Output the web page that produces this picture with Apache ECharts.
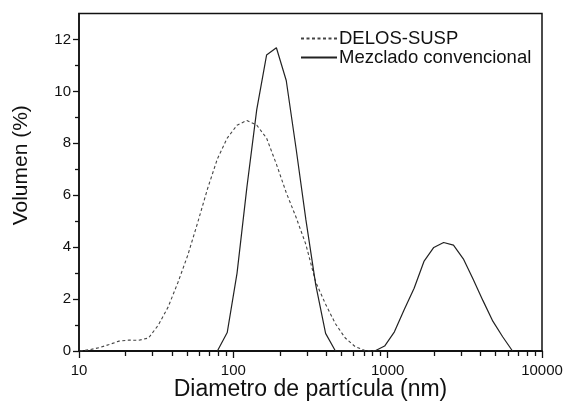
<!DOCTYPE html>
<html>
<head>
<meta charset="utf-8">
<script src="https://cdn.jsdelivr.net/npm/echarts@6/dist/echarts.min.js"></script>
<style>
html,body{margin:0;padding:0;background:#fff;}
#c{width:564px;height:403px;}
</style>
</head>
<body>
<div id="c"></div>
<script>
// Particle size bins (nm)
var sizes = [10.1, 11.7, 13.54, 15.69, 18.17, 21.04, 24.36, 28.21, 32.67, 37.84, 43.82, 50.75, 58.77, 68.06, 78.82, 91.28, 105.7, 122.4, 141.8, 164.2, 190.1, 220.2, 255.0, 295.3, 342.0, 396.1, 458.7, 531.2, 615.1, 712.4, 825.0, 955.4, 1106, 1281, 1484, 1718, 1990, 2305, 2669, 3091, 3580, 4145, 4801, 5560, 6439];
// Volume (%) - DELOS-SUSP
var delos = [0, 0.05, 0.13, 0.25, 0.38, 0.42, 0.41, 0.5, 1.0, 1.7, 2.65, 3.7, 4.95, 6.25, 7.4, 8.2, 8.7, 8.88, 8.7, 8.2, 7.2, 6.1, 5.15, 4.1, 2.65, 1.8, 1.05, 0.5, 0.17, 0.02, 0, null, null, null, null, null, null, null, null, null, null, null, null, null, null];
// Volume (%) - Mezclado convencional
var mezclado = [null, null, null, null, null, null, null, null, null, null, null, null, null, null, 0, 0.71, 3.0, 6.3, 9.3, 11.4, 11.68, 10.42, 7.8, 5.05, 2.55, 0.68, 0, 0, 0, 0, 0, 0.19, 0.74, 1.6, 2.42, 3.45, 3.99, 4.18, 4.08, 3.55, 2.76, 1.94, 1.15, 0.55, 0];

var seriesNames = ['DELOS-SUSP', 'Mezclado convencional'];
var xMinorTicks = [20, 30, 40, 50, 60, 70, 80, 90, 200, 300, 400, 500, 600, 700, 800, 900, 2000, 3000, 4000, 5000, 6000, 7000, 8000, 9000];
var yMajorTicks = [0, 2, 4, 6, 8, 10, 12];
var yMinorTicks = [1, 3, 5, 7, 9, 11];
var xTitle = 'Diametro de partícula (nm)';
var yTitle = 'Volumen (%)';

function pairs(vals) {
  return sizes.map(function (s, i) { return [s, vals[i]]; });
}

var FONT = 'Liberation Sans, Arial, sans-serif';
var chart = echarts.init(document.getElementById('c'), null, {renderer: 'canvas'});
chart.setOption({
  animation: false,
  backgroundColor: '#fff',
  textStyle: {fontFamily: FONT},
  grid: {left: 79, right: 22, top: 13.5, bottom: 52, containLabel: false, outerBoundsMode: 'none',
         show: true, borderColor: '#111', borderWidth: 1.5, backgroundColor: 'transparent'},
  legend: {
    orient: 'vertical', left: 300, top: 29, padding: 0,
    itemWidth: 36, itemHeight: 12, itemGap: 0,
    itemStyle: {opacity: 0},
    textStyle: {fontFamily: FONT, fontSize: 18.5, color: '#111', padding: [0, 0, 0, -3]},
    data: seriesNames
  },
  xAxis: [{
    type: 'log', logBase: 10, min: 10, max: 10000,
    name: xTitle, nameLocation: 'middle', nameGap: 27, nameMoveOverlap: false,
    nameTextStyle: {fontFamily: FONT, fontSize: 23, color: '#111'},
    axisLine: {lineStyle: {color: '#111', width: 1.5}},
    axisTick: {show: true, inside: false, length: 7, lineStyle: {color: '#111', width: 1.3}},
    axisLabel: {fontFamily: FONT, fontSize: 15, color: '#111', margin: 12,
                formatter: function (v) { return String(Math.round(v)); }},
    splitLine: {show: false}
  }, {
    // exponent-space companion axis (log10 of nm) carrying the minor ticks of the log axis
    type: 'value', min: 1, max: 4, position: 'bottom', offset: 0,
    axisLine: {show: true, onZero: false, lineStyle: {color: '#111', width: 1.5}},
    axisTick: {show: true, inside: false, length: 5,
               customValues: xMinorTicks.map(function (v) { return Math.log10(v); }),
               lineStyle: {color: '#111', width: 1.3}},
    axisLabel: {show: false},
    splitLine: {show: false}
  }],
  yAxis: [{
    type: 'value', min: 0, max: 13, interval: 2,
    name: yTitle, nameLocation: 'middle', nameGap: 47, nameRotate: 90,
    nameTextStyle: {fontFamily: FONT, fontSize: 21, color: '#111', padding: [0, 0, 0, 34]},
    axisLine: {show: true, lineStyle: {color: '#111', width: 1.5}},
    axisTick: {show: true, inside: false, length: 6, customValues: yMajorTicks, lineStyle: {color: '#111', width: 1.3}},
    axisLabel: {fontFamily: FONT, fontSize: 15, color: '#111', margin: 8, customValues: yMajorTicks},
    splitLine: {show: false}
  }, {
    type: 'value', min: 0, max: 13, position: 'left', offset: 0,
    axisLine: {show: false},
    axisTick: {show: true, inside: false, length: 4, customValues: yMinorTicks, lineStyle: {color: '#111', width: 1.3}},
    axisLabel: {show: false},
    splitLine: {show: false}
  }],
  series: [{
    name: seriesNames[0], type: 'line', xAxisIndex: 0, yAxisIndex: 0,
    data: pairs(delos), symbol: 'none', connectNulls: false,
    lineStyle: {color: '#444', width: 1.1, type: [3, 2.5]},
    itemStyle: {color: '#444'}
  }, {
    name: seriesNames[1], type: 'line', xAxisIndex: 0, yAxisIndex: 0,
    data: pairs(mezclado), symbol: 'none', connectNulls: false,
    lineStyle: {color: '#222', width: 1.2, type: 'solid'},
    itemStyle: {color: '#222'}
  }]
});
</script>
</body>
</html>
